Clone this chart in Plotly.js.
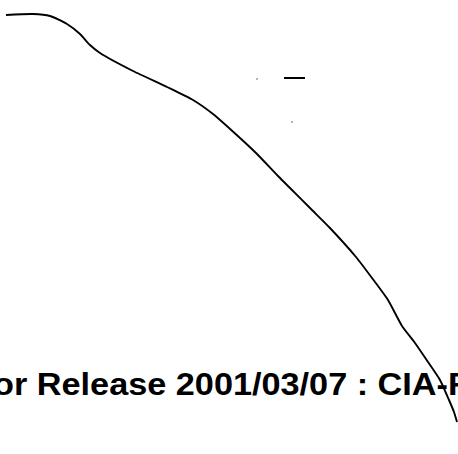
<!DOCTYPE html>
<html>
<head>
<meta charset="utf-8">
<script src="https://cdn.plot.ly/plotly-3.0.1.min.js"></script>
<style>html,body{margin:0;padding:0;background:#fff;overflow:hidden}#chart{width:458px;height:454px}</style>
</head>
<body>
<div id="chart"></div>
<script>
// Traced curve (horizontal position, vertical position in page units, top = 0)
const curveX = [6, 33, 50, 67, 80, 90, 100, 133, 167, 193, 213, 229, 256, 279, 289, 312, 329, 356, 372, 388, 402, 415, 428, 440, 449, 454, 457];
const curveY = [15, 14, 16, 24, 34, 45, 53, 71, 87, 100, 114, 128, 153, 177, 187, 210, 227, 257, 278, 300, 326, 343, 362, 380, 400, 412, 422];
// Short dash mark
const dashX = [284, 305];
const dashY = [78, 78];
// Specks
const speckX = [257, 292];
const speckY = [79, 122];
const stampText = "or Release 2001/03/07 : CIA-R";

const traces = [
  {x: curveX, y: curveY, mode: 'lines', line: {color: '#000', width: 1.9, shape: 'spline', smoothing: 0.6}, hoverinfo: 'skip'},
  {x: dashX, y: dashY, mode: 'lines', line: {color: '#000', width: 2}, hoverinfo: 'skip'},
  {x: speckX, y: speckY, mode: 'markers', marker: {color: '#444', size: 1.5}, hoverinfo: 'skip'}
];

const layout = {
  width: 458, height: 454,
  margin: {l: 0, r: 0, t: 0, b: 0},
  paper_bgcolor: '#fff', plot_bgcolor: '#fff',
  showlegend: false,
  xaxis: {range: [0, 458], visible: false, fixedrange: true},
  yaxis: {range: [454, 0], visible: false, fixedrange: true},
  annotations: [{
    text: '<b>' + stampText + '</b>',
    x: 0, y: 404, xref: 'paper', yref: 'y',
    xanchor: 'left', yanchor: 'bottom', xshift: -9,
    showarrow: false,
    font: {family: 'Liberation Sans, Arial, sans-serif', size: 31, color: '#000'}
  }]
};
Plotly.newPlot('chart', traces, layout, {staticPlot: true, displayModeBar: false}).then(function () {
  // The scanned stamp text is slightly stretched horizontally
  document.querySelectorAll('.annotation-text').forEach(function (t) {
    t.style.transformBox = 'fill-box';
    t.style.transformOrigin = 'left center';
    t.style.transform = 'scaleX(1.105)';
  });
});
</script>
</body>
</html>
